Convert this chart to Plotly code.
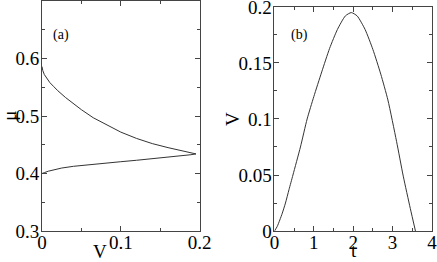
import plotly.graph_objects as go

# Panel (a): mu versus V (upper branch down to tip, then lower branch back)
V_a = [0.0, 0.001, 0.003, 0.006, 0.01, 0.015, 0.02, 0.03, 0.04, 0.05, 0.065, 0.08, 0.1, 0.12, 0.14, 0.16, 0.175, 0.188, 0.1955,
       0.188, 0.175, 0.16, 0.14, 0.12, 0.1, 0.08, 0.06, 0.04, 0.025, 0.015, 0.008, 0.003, 0.0]
mu_a = [0.586, 0.579, 0.572, 0.565, 0.558, 0.551, 0.544, 0.532, 0.521, 0.511, 0.497, 0.486, 0.472, 0.461, 0.452, 0.445, 0.440, 0.437, 0.434,
        0.4325, 0.4305, 0.428, 0.4255, 0.423, 0.4205, 0.418, 0.4155, 0.4125, 0.4095, 0.4065, 0.404, 0.4015, 0.400]

# Panel (b): V versus t
t_b = [0.0, 0.07, 0.136, 0.2, 0.28, 0.37, 0.47, 0.66, 0.83, 1.0, 1.2, 1.4, 1.6, 1.8, 1.95, 2.1, 2.3, 2.5, 2.7, 2.88, 3.1, 3.27, 3.45, 3.58]
V_b = [0.0, 0.004, 0.0098, 0.016, 0.025, 0.037, 0.05, 0.075, 0.1, 0.12, 0.142, 0.163, 0.18, 0.192, 0.195, 0.192, 0.18, 0.162, 0.14, 0.117, 0.08, 0.049, 0.02, 0.0]

xa_ticks = [0, 0.1, 0.2]
xa_labels = ["0", "0.1", "0.2"]
ya_ticks = [0.3, 0.4, 0.5, 0.6]
ya_labels = ["0.3", "0.4", "0.5", "0.6"]
xb_ticks = [0, 1, 2, 3, 4]
xb_labels = ["0", "1", "2", "3", "4"]
yb_ticks = [0, 0.05, 0.1, 0.15, 0.2]
yb_labels = ["0", "0.05", "0.1", "0.15", "0.2"]

FONT = "Liberation Serif"
tickfont = dict(family=FONT, size=19, color="black")

fig = go.Figure()
fig.add_trace(go.Scatter(x=V_a, y=mu_a, mode="lines", line=dict(color="#333", width=1),
                         xaxis="x", yaxis="y", showlegend=False, hoverinfo="skip"))
fig.add_trace(go.Scatter(x=t_b, y=V_b, mode="lines", line=dict(color="#333", width=1, shape="spline", smoothing=0.6),
                         xaxis="x2", yaxis="y2", showlegend=False, hoverinfo="skip"))

common = dict(showgrid=False, zeroline=False, showline=True, linecolor="#444", linewidth=1,
              mirror="allticks", ticks="inside", ticklen=5, tickcolor="#444", tickfont=tickfont,
              ticklabeloverflow="allow")

ann_font = dict(family=FONT, size=19, color="black")
fig.update_layout(
    width=437, height=262,
    margin=dict(l=42, r=5, t=1, b=31, autoexpand=False),
    paper_bgcolor="white", plot_bgcolor="white",
    font=dict(family=FONT, size=19, color="black"),
    xaxis=dict(domain=[0, 0.404], range=[0, 0.2], tickvals=xa_ticks, ticktext=xa_labels, ticklabelstandoff=-6,
               minor=dict(ticks="inside", ticklen=3, tickvals=[0.05, 0.15], tickcolor="#444"), anchor="y", **common),
    yaxis=dict(domain=[0, 1], range=[0.3, 0.7], tickvals=ya_ticks, ticktext=ya_labels, ticklabelstandoff=-2,
               minor=dict(ticks="inside", ticklen=3, tickvals=[0.35, 0.45, 0.55, 0.65], tickcolor="#444"), anchor="x", **common),
    xaxis2=dict(domain=[0.596, 1], range=[0, 4], tickvals=xb_ticks, ticktext=xb_labels, ticklabelstandoff=-6,
                minor=dict(ticks="inside", ticklen=3, tickvals=[0.5, 1.5, 2.5, 3.5], tickcolor="#444"), anchor="y2", **common),
    yaxis2=dict(domain=[0, 0.974], range=[0, 0.2], tickvals=yb_ticks, ticktext=yb_labels, ticklabelstandoff=-2,
                minor=dict(ticks="inside", ticklen=3, tickvals=[0.025, 0.075, 0.125, 0.175], tickcolor="#444"), anchor="x2", **common),
    annotations=[
        dict(text="(a)", x=0.024, y=0.641, xref="x", yref="y", showarrow=False, xanchor="center", yanchor="middle",
             font=dict(family=FONT, size=14, color="black")),
        dict(text="(b)", x=0.63, y=0.175, xref="x2", yref="y2", showarrow=False, xanchor="center", yanchor="middle",
             font=dict(family=FONT, size=14, color="black")),
        dict(text="V", x=0.149, y=-0.087, xref="paper", yref="paper", showarrow=False, xanchor="center", yanchor="middle", font=ann_font),
        dict(text="t", x=0.799, y=-0.083, xref="paper", yref="paper", showarrow=False, xanchor="center", yanchor="middle", font=ann_font),
        dict(text="μ", x=-0.085, y=0.5, xref="paper", yref="paper", showarrow=False, textangle=-90, xanchor="center", yanchor="middle", font=ann_font),
        dict(text="V", x=0.49, y=0.487, xref="paper", yref="paper", showarrow=False, textangle=-90, xanchor="center", yanchor="middle", font=ann_font),
    ],
)

fig.write_html("out.html", config={"displayModeBar": False, "staticPlot": True},
               post_script="document.body.style.margin='0';document.body.style.overflow='hidden';")
